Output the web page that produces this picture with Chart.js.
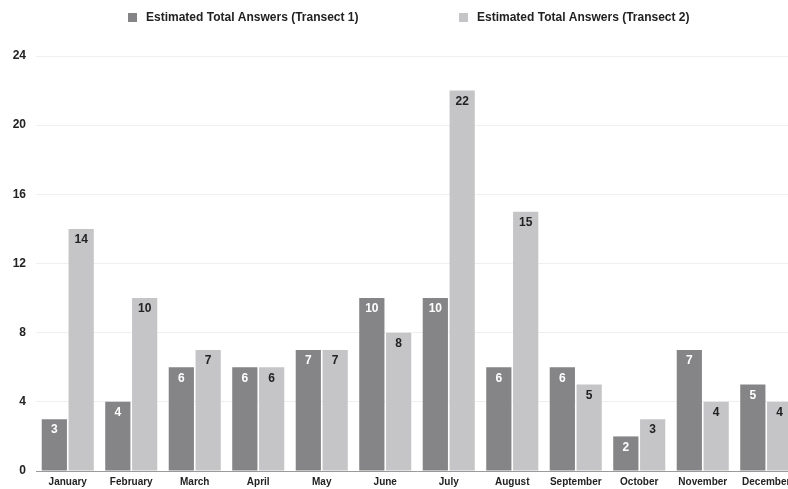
<!DOCTYPE html>
<html>
<head>
<meta charset="utf-8">
<script src="https://cdn.jsdelivr.net/npm/chart.js@4/dist/chart.umd.min.js"></script>
<style>
  html, body { margin: 0; padding: 0; background: #ffffff; overflow: hidden; }
  #wrap { width: 788px; height: 489px; overflow: hidden; position: relative; }
  #holder { width: 798px; height: 489px; position: absolute; left: 0; top: 0; }
</style>
</head>
<body>
<div id="wrap"><div id="holder"><canvas id="chart"></canvas></div></div>
<script>
const months = ['January', 'February', 'March', 'April', 'May', 'June', 'July',
                'August', 'September', 'October', 'November', 'December'];
const transect1 = [3, 4, 6, 6, 7, 10, 10, 6, 6, 2, 7, 5];
const transect2 = [14, 10, 7, 6, 7, 8, 22, 15, 5, 3, 4, 4];
const seriesNames = ['Estimated Total Answers (Transect 1)', 'Estimated Total Answers (Transect 2)'];
const yTicks = [0, 4, 8, 12, 16, 20, 24];

const darkGrey = '#858587';
const lightGrey = '#c5c5c7';
const FONT = '"Liberation Sans", Arial, Helvetica, sans-serif';

// Value printed just inside the top of every bar
const barValues = {
  id: 'barValues',
  afterDatasetsDraw(chart) {
    const ctx = chart.ctx;
    ctx.save();
    ctx.font = 'bold 12px ' + FONT;
    ctx.textAlign = 'center';
    ctx.textBaseline = 'middle';
    chart.data.datasets.forEach((ds, di) => {
      const meta = chart.getDatasetMeta(di);
      ctx.fillStyle = di === 0 ? '#ffffff' : '#222222';
      meta.data.forEach((bar, i) => {
        ctx.fillText(String(ds.data[i]), bar.x, bar.y + 11);
      });
    });
    ctx.restore();
  }
};

// Legend row above the plot: square swatch followed by the series name
const topLegend = {
  id: 'topLegend',
  afterDraw(chart) {
    const ctx = chart.ctx;
    const starts = [128, 459];
    ctx.save();
    ctx.font = 'bold 12px ' + FONT;
    ctx.textBaseline = 'middle';
    ctx.textAlign = 'left';
    chart.data.datasets.forEach((ds, di) => {
      const x = starts[di];
      ctx.fillStyle = ds.backgroundColor;
      ctx.fillRect(x, 13, 9, 9);
      ctx.fillStyle = '#222222';
      ctx.fillText(ds.label, x + 18, 18);
    });
    ctx.restore();
  }
};

new Chart(document.getElementById('chart'), {
  type: 'bar',
  data: {
    labels: months,
    datasets: [
      { label: seriesNames[0], data: transect1, backgroundColor: darkGrey },
      { label: seriesNames[1], data: transect2, backgroundColor: lightGrey }
    ]
  },
  options: {
    responsive: true,
    maintainAspectRatio: false,
    animation: false,
    layout: { padding: { top: 56, right: 0, bottom: 0, left: 0 } },
    datasets: { bar: { categoryPercentage: 0.845, barPercentage: 0.94 } },
    plugins: {
      legend: { display: false },
      tooltip: { enabled: false }
    },
    scales: {
      x: {
        afterFit(scale) { scale.height = 18; },
        grid: { display: false, drawTicks: false },
        border: { display: true, color: '#9a9a9a', width: 1 },
        ticks: {
          color: '#222222',
          font: { family: FONT, size: 10, weight: 'bold' },
          padding: 5,
          maxRotation: 0,
          autoSkip: false
        }
      },
      y: {
        min: 0,
        max: 24,
        afterFit(scale) { scale.width = 36; },
        afterBuildTicks(scale) { scale.ticks = yTicks.map(v => ({ value: v })); },
        grid: { color: '#efefef', drawTicks: false },
        border: { display: false },
        ticks: {
          color: '#222222',
          font: { family: FONT, size: 12, weight: 'bold' },
          padding: 10
        }
      }
    }
  },
  plugins: [barValues, topLegend]
});
</script>
</body>
</html>
